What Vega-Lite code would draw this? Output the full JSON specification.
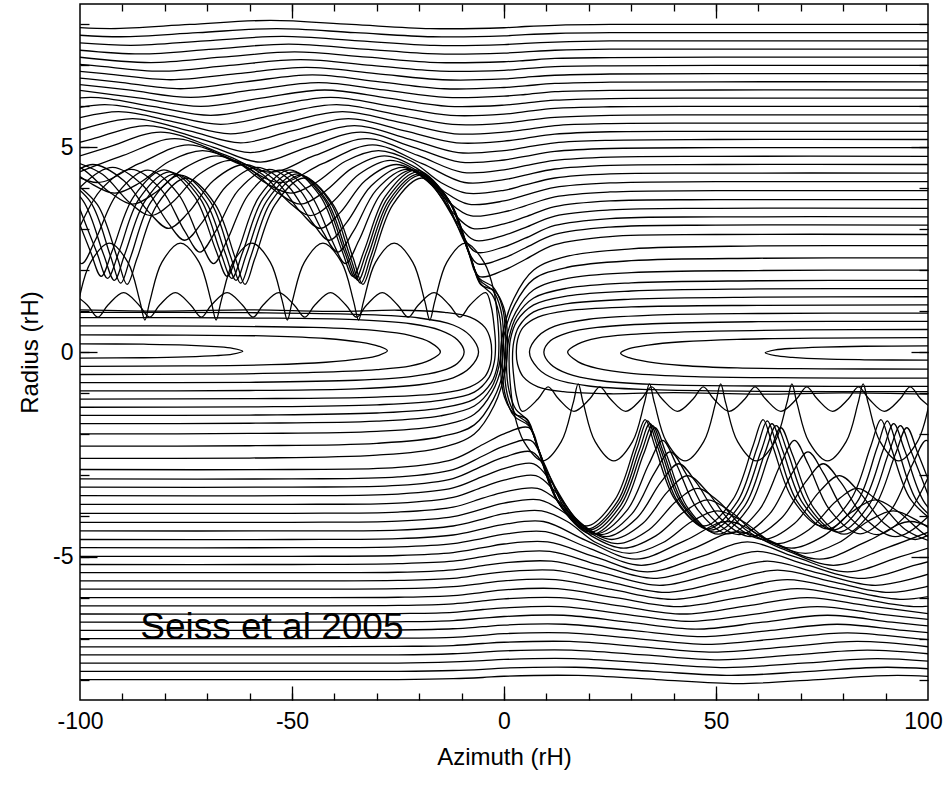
{
"$schema":"https://vega.github.io/schema/vega-lite/v6.json",
"width":848,"height":696,
"autosize":{"type":"none"},
"padding":{"left":80,"top":4,"right":15,"bottom":106},
"background":"white",
"config":{"view":{"stroke":"black","strokeWidth":1.5},"font":"Liberation Sans",
"axis":{"domain":false,"grid":false,"labelFont":"Liberation Sans","labelFontSize":23,"labelColor":"black","titleFont":"Liberation Sans","titleFontSize":24,"titleFontWeight":"normal","titleColor":"black","tickColor":"black","tickWidth":1.3}},
"resolve":{"axis":{"x":"independent","y":"independent"}},
"datasets":{
"label":[{"t":"Seiss et al 2005","x":-85.8,"y":-7.0}],
"lines":[
{"l":1,"x":100,"y":2.87},{"l":1,"x":50,"y":2.87},{"l":1,"x":25,"y":2.82},{"l":1,"x":12,"y":2.62},{"l":1,"x":5,"y":2.26},{"l":1,"x":0,"y":2},{"l":1,"x":-5.9,"y":1.85},{"l":1,"x":-8.6,"y":2.5},{"l":1,"x":-13.6,"y":3.8},{"l":1,"x":-20.8,"y":4.45},{"l":1,"x":-28,"y":3.8},{"l":1,"x":-32.9,"y":2.5},{"l":1,"x":-35.6,"y":1.85},{"l":1,"x":-38.3,"y":2.5},{"l":1,"x":-43.3,"y":3.8},{"l":1,"x":-50.5,"y":4.45},{"l":1,"x":-57.7,"y":3.8},{"l":1,"x":-62.6,"y":2.5},{"l":1,"x":-65.3,"y":1.85},{"l":1,"x":-68,"y":2.5},{"l":1,"x":-73,"y":3.8},{"l":1,"x":-80.2,"y":4.45},{"l":1,"x":-87.3,"y":3.8},{"l":1,"x":-92.3,"y":2.5},{"l":1,"x":-95,"y":1.85},{"l":1,"x":-97.7,"y":2.5},{"l":1,"x":-102.6,"y":3.8},
{"l":2,"x":100,"y":3.1},{"l":2,"x":50,"y":3.1},{"l":2,"x":25,"y":3.05},{"l":2,"x":12,"y":2.87},{"l":2,"x":5,"y":2.54},{"l":2,"x":0,"y":2.3},{"l":2,"x":-6.3,"y":2.16},{"l":2,"x":-9.5,"y":2.73},{"l":2,"x":-14.7,"y":3.87},{"l":2,"x":-21.8,"y":4.44},{"l":2,"x":-29,"y":3.87},{"l":2,"x":-34.2,"y":2.73},{"l":2,"x":-37.4,"y":2.16},{"l":2,"x":-40.6,"y":2.73},{"l":2,"x":-45.8,"y":3.87},{"l":2,"x":-52.9,"y":4.44},{"l":2,"x":-60.1,"y":3.87},{"l":2,"x":-65.3,"y":2.73},{"l":2,"x":-68.5,"y":2.16},{"l":2,"x":-71.7,"y":2.73},{"l":2,"x":-76.9,"y":3.87},{"l":2,"x":-84,"y":4.44},{"l":2,"x":-91.2,"y":3.87},{"l":2,"x":-96.4,"y":2.73},{"l":2,"x":-99.6,"y":2.16},{"l":2,"x":-102.8,"y":2.73},
{"l":3,"x":100,"y":3.3},{"l":3,"x":50,"y":3.3},{"l":3,"x":25,"y":3.26},{"l":3,"x":12,"y":3.09},{"l":3,"x":5,"y":2.78},{"l":3,"x":0,"y":2.57},{"l":3,"x":-6.6,"y":2.44},{"l":3,"x":-10.3,"y":2.95},{"l":3,"x":-15.7,"y":3.96},{"l":3,"x":-22.9,"y":4.46},{"l":3,"x":-30.1,"y":3.96},{"l":3,"x":-35.5,"y":2.95},{"l":3,"x":-39.2,"y":2.44},{"l":3,"x":-42.8,"y":2.95},{"l":3,"x":-48.2,"y":3.96},{"l":3,"x":-55.4,"y":4.46},{"l":3,"x":-62.6,"y":3.96},{"l":3,"x":-68,"y":2.95},{"l":3,"x":-71.7,"y":2.44},{"l":3,"x":-75.3,"y":2.95},{"l":3,"x":-80.8,"y":3.96},{"l":3,"x":-87.9,"y":4.46},{"l":3,"x":-95.1,"y":3.96},{"l":3,"x":-100.5,"y":2.95},
{"l":4,"x":100,"y":3.51},{"l":4,"x":50,"y":3.51},{"l":4,"x":25,"y":3.47},{"l":4,"x":12,"y":3.32},{"l":4,"x":5,"y":3.04},{"l":4,"x":0,"y":2.85},{"l":4,"x":-7,"y":2.73},{"l":4,"x":-11.2,"y":3.18},{"l":4,"x":-16.9,"y":4.06},{"l":4,"x":-24.1,"y":4.51},{"l":4,"x":-31.3,"y":4.06},{"l":4,"x":-37,"y":3.18},{"l":4,"x":-41.2,"y":2.73},{"l":4,"x":-45.3,"y":3.18},{"l":4,"x":-51,"y":4.06},{"l":4,"x":-58.2,"y":4.51},{"l":4,"x":-65.4,"y":4.06},{"l":4,"x":-71.1,"y":3.18},{"l":4,"x":-75.3,"y":2.73},{"l":4,"x":-79.4,"y":3.18},{"l":4,"x":-85.1,"y":4.06},{"l":4,"x":-92.3,"y":4.51},{"l":4,"x":-99.6,"y":4.06},{"l":4,"x":-105.2,"y":3.18},
{"l":5,"x":100,"y":3.72},{"l":5,"x":50,"y":3.72},{"l":5,"x":25,"y":3.69},{"l":5,"x":12,"y":3.55},{"l":5,"x":5,"y":3.3},{"l":5,"x":0,"y":3.13},{"l":5,"x":-7.5,"y":3.02},{"l":5,"x":-12.1,"y":3.41},{"l":5,"x":-18.1,"y":4.19},{"l":5,"x":-25.4,"y":4.58},{"l":5,"x":-32.7,"y":4.19},{"l":5,"x":-38.6,"y":3.41},{"l":5,"x":-43.3,"y":3.02},{"l":5,"x":-47.9,"y":3.41},{"l":5,"x":-53.9,"y":4.19},{"l":5,"x":-61.2,"y":4.58},{"l":5,"x":-68.5,"y":4.19},{"l":5,"x":-74.4,"y":3.41},{"l":5,"x":-79.1,"y":3.02},{"l":5,"x":-83.7,"y":3.41},{"l":5,"x":-89.7,"y":4.19},{"l":5,"x":-97,"y":4.58},{"l":5,"x":-104.3,"y":4.19},
{"l":6,"x":100,"y":3.94},{"l":6,"x":50,"y":3.94},{"l":6,"x":25,"y":3.91},{"l":6,"x":12,"y":3.79},{"l":6,"x":5,"y":3.57},{"l":6,"x":0,"y":3.42},{"l":6,"x":-7.9,"y":3.33},{"l":6,"x":-13,"y":3.66},{"l":6,"x":-19.3,"y":4.34},{"l":6,"x":-26.8,"y":4.68},{"l":6,"x":-34.2,"y":4.34},{"l":6,"x":-40.5,"y":3.66},{"l":6,"x":-45.6,"y":3.33},{"l":6,"x":-50.7,"y":3.66},{"l":6,"x":-57,"y":4.34},{"l":6,"x":-64.5,"y":4.68},{"l":6,"x":-71.9,"y":4.34},{"l":6,"x":-78.2,"y":3.66},{"l":6,"x":-83.3,"y":3.33},{"l":6,"x":-88.4,"y":3.66},{"l":6,"x":-94.7,"y":4.34},{"l":6,"x":-102.2,"y":4.68},
{"l":7,"x":100,"y":4.16},{"l":7,"x":50,"y":4.16},{"l":7,"x":25,"y":4.13},{"l":7,"x":12,"y":4.02},{"l":7,"x":5,"y":3.83},{"l":7,"x":0,"y":3.69},{"l":7,"x":-8.4,"y":3.61},{"l":7,"x":-14,"y":3.91},{"l":7,"x":-20.6,"y":4.49},{"l":7,"x":-28.2,"y":4.79},{"l":7,"x":-35.8,"y":4.49},{"l":7,"x":-42.4,"y":3.91},{"l":7,"x":-48,"y":3.61},{"l":7,"x":-53.6,"y":3.91},{"l":7,"x":-60.2,"y":4.49},{"l":7,"x":-67.8,"y":4.79},{"l":7,"x":-75.4,"y":4.49},{"l":7,"x":-82,"y":3.91},{"l":7,"x":-87.6,"y":3.61},{"l":7,"x":-93.1,"y":3.91},{"l":7,"x":-99.7,"y":4.49},{"l":7,"x":-107.4,"y":4.79},
{"l":8,"x":100,"y":4.37},{"l":8,"x":50,"y":4.37},{"l":8,"x":25,"y":4.35},{"l":8,"x":12,"y":4.25},{"l":8,"x":5,"y":4.08},{"l":8,"x":0,"y":3.95},{"l":8,"x":-8.9,"y":3.88},{"l":8,"x":-14.9,"y":4.14},{"l":8,"x":-21.8,"y":4.66},{"l":8,"x":-29.6,"y":4.92},{"l":8,"x":-37.4,"y":4.66},{"l":8,"x":-44.3,"y":4.14},{"l":8,"x":-50.3,"y":3.88},{"l":8,"x":-56.4,"y":4.14},{"l":8,"x":-63.3,"y":4.66},{"l":8,"x":-71.1,"y":4.92},{"l":8,"x":-78.9,"y":4.66},{"l":8,"x":-85.8,"y":4.14},{"l":8,"x":-91.8,"y":3.88},{"l":8,"x":-97.8,"y":4.14},{"l":8,"x":-104.7,"y":4.66},
{"l":9,"x":100,"y":4.58},{"l":9,"x":50,"y":4.58},{"l":9,"x":25,"y":4.56},{"l":9,"x":12,"y":4.47},{"l":9,"x":5,"y":4.32},{"l":9,"x":0,"y":4.21},{"l":9,"x":-9.3,"y":4.14},{"l":9,"x":-19.3,"y":4.6},{"l":9,"x":-31,"y":5.06},{"l":9,"x":-42.8,"y":4.6},{"l":9,"x":-52.7,"y":4.14},{"l":9,"x":-62.6,"y":4.6},{"l":9,"x":-74.4,"y":5.06},{"l":9,"x":-86.1,"y":4.6},{"l":9,"x":-96,"y":4.14},{"l":9,"x":-106,"y":4.6},
{"l":10,"x":100,"y":4.78},{"l":10,"x":50,"y":4.78},{"l":10,"x":25,"y":4.76},{"l":10,"x":12,"y":4.68},{"l":10,"x":5,"y":4.55},{"l":10,"x":0,"y":4.45},{"l":10,"x":-9.8,"y":4.39},{"l":10,"x":-20.3,"y":4.8},{"l":10,"x":-32.4,"y":5.21},{"l":10,"x":-44.6,"y":4.8},{"l":10,"x":-55.1,"y":4.39},{"l":10,"x":-65.5,"y":4.8},{"l":10,"x":-77.7,"y":5.21},{"l":10,"x":-89.8,"y":4.8},{"l":10,"x":-100.3,"y":4.39},
{"l":11,"x":100,"y":4.99},{"l":11,"x":50,"y":4.99},{"l":11,"x":25,"y":4.97},{"l":11,"x":12,"y":4.9},{"l":11,"x":5,"y":4.78},{"l":11,"x":0,"y":4.69},{"l":11,"x":-10.3,"y":4.64},{"l":11,"x":-21.3,"y":5},{"l":11,"x":-33.8,"y":5.37},{"l":11,"x":-46.4,"y":5},{"l":11,"x":-57.4,"y":4.64},{"l":11,"x":-68.5,"y":5},{"l":11,"x":-81,"y":5.37},{"l":11,"x":-93.5,"y":5},{"l":11,"x":-104.5,"y":4.64},
{"l":12,"x":100,"y":5.19},{"l":12,"x":50,"y":5.19},{"l":12,"x":25,"y":5.17},{"l":12,"x":12,"y":5.11},{"l":12,"x":5,"y":5},{"l":12,"x":0,"y":4.92},{"l":12,"x":-10.8,"y":4.87},{"l":12,"x":-22.3,"y":5.2},{"l":12,"x":-35.3,"y":5.53},{"l":12,"x":-48.2,"y":5.2},{"l":12,"x":-59.8,"y":4.87},{"l":12,"x":-71.4,"y":5.2},{"l":12,"x":-84.3,"y":5.53},{"l":12,"x":-97.2,"y":5.2},{"l":12,"x":-108.8,"y":4.87},
{"l":13,"x":100,"y":5.39},{"l":13,"x":50,"y":5.39},{"l":13,"x":25,"y":5.38},{"l":13,"x":12,"y":5.32},{"l":13,"x":5,"y":5.22},{"l":13,"x":0,"y":5.15},{"l":13,"x":-11.2,"y":5.11},{"l":13,"x":-23.4,"y":5.4},{"l":13,"x":-36.7,"y":5.7},{"l":13,"x":-50,"y":5.4},{"l":13,"x":-62.1,"y":5.11},{"l":13,"x":-74.2,"y":5.4},{"l":13,"x":-87.6,"y":5.7},{"l":13,"x":-100.9,"y":5.4},
{"l":14,"x":100,"y":5.59},{"l":14,"x":50,"y":5.59},{"l":14,"x":25,"y":5.58},{"l":14,"x":12,"y":5.53},{"l":14,"x":5,"y":5.43},{"l":14,"x":0,"y":5.37},{"l":14,"x":-11.7,"y":5.33},{"l":14,"x":-24.3,"y":5.6},{"l":14,"x":-38.1,"y":5.87},{"l":14,"x":-51.8,"y":5.6},{"l":14,"x":-64.5,"y":5.33},{"l":14,"x":-77.1,"y":5.6},{"l":14,"x":-90.9,"y":5.87},{"l":14,"x":-104.6,"y":5.6},
{"l":15,"x":100,"y":5.79},{"l":15,"x":50,"y":5.79},{"l":15,"x":25,"y":5.78},{"l":15,"x":12,"y":5.73},{"l":15,"x":5,"y":5.65},{"l":15,"x":0,"y":5.59},{"l":15,"x":-12.2,"y":5.56},{"l":15,"x":-25.4,"y":5.8},{"l":15,"x":-39.5,"y":6.04},{"l":15,"x":-53.7,"y":5.8},{"l":15,"x":-66.8,"y":5.56},{"l":15,"x":-80,"y":5.8},{"l":15,"x":-94.2,"y":6.04},{"l":15,"x":-108.3,"y":5.8},
{"l":16,"x":100,"y":6},{"l":16,"x":50,"y":6},{"l":16,"x":25,"y":5.99},{"l":16,"x":12,"y":5.95},{"l":16,"x":5,"y":5.87},{"l":16,"x":0,"y":5.81},{"l":16,"x":-12.6,"y":5.78},{"l":16,"x":-26.3,"y":6},{"l":16,"x":-40.9,"y":6.22},{"l":16,"x":-55.5,"y":6},{"l":16,"x":-69.2,"y":5.78},{"l":16,"x":-82.9,"y":6},{"l":16,"x":-97.5,"y":6.22},{"l":16,"x":-112,"y":6},
{"l":17,"x":100,"y":6.2},{"l":17,"x":50,"y":6.2},{"l":17,"x":25,"y":6.19},{"l":17,"x":12,"y":6.15},{"l":17,"x":5,"y":6.08},{"l":17,"x":0,"y":6.03},{"l":17,"x":-13.1,"y":6},{"l":17,"x":-27.3,"y":6.2},{"l":17,"x":-42.3,"y":6.4},{"l":17,"x":-57.3,"y":6.2},{"l":17,"x":-71.5,"y":6},{"l":17,"x":-85.8,"y":6.2},{"l":17,"x":-100.8,"y":6.4},
{"l":18,"x":100,"y":6.4},{"l":18,"x":50,"y":6.4},{"l":18,"x":25,"y":6.39},{"l":18,"x":12,"y":6.36},{"l":18,"x":5,"y":6.29},{"l":18,"x":0,"y":6.25},{"l":18,"x":-13.6,"y":6.22},{"l":18,"x":-28.3,"y":6.4},{"l":18,"x":-43.7,"y":6.58},{"l":18,"x":-59.2,"y":6.4},{"l":18,"x":-73.9,"y":6.22},{"l":18,"x":-88.6,"y":6.4},{"l":18,"x":-104.1,"y":6.58},
{"l":19,"x":100,"y":6.6},{"l":19,"x":50,"y":6.6},{"l":19,"x":25,"y":6.59},{"l":19,"x":12,"y":6.56},{"l":19,"x":5,"y":6.5},{"l":19,"x":0,"y":6.46},{"l":19,"x":-14.1,"y":6.43},{"l":19,"x":-29.3,"y":6.6},{"l":19,"x":-45.2,"y":6.77},{"l":19,"x":-61,"y":6.6},{"l":19,"x":-76.3,"y":6.43},{"l":19,"x":-91.5,"y":6.6},{"l":19,"x":-107.4,"y":6.77},
{"l":20,"x":100,"y":6.8},{"l":20,"x":50,"y":6.8},{"l":20,"x":25,"y":6.79},{"l":20,"x":12,"y":6.76},{"l":20,"x":5,"y":6.71},{"l":20,"x":0,"y":6.67},{"l":20,"x":-14.5,"y":6.65},{"l":20,"x":-30.2,"y":6.8},{"l":20,"x":-46.6,"y":6.95},{"l":20,"x":-62.9,"y":6.8},{"l":20,"x":-78.6,"y":6.65},{"l":20,"x":-94.3,"y":6.8},{"l":20,"x":-110.7,"y":6.95},
{"l":21,"x":100,"y":7},{"l":21,"x":50,"y":7},{"l":21,"x":25,"y":6.99},{"l":21,"x":12,"y":6.97},{"l":21,"x":5,"y":6.92},{"l":21,"x":0,"y":6.88},{"l":21,"x":-15,"y":6.86},{"l":21,"x":-31.2,"y":7},{"l":21,"x":-48,"y":7.14},{"l":21,"x":-64.8,"y":7},{"l":21,"x":-81,"y":6.86},{"l":21,"x":-97.2,"y":7},{"l":21,"x":-114,"y":7.14},
{"l":22,"x":100,"y":7.2},{"l":22,"x":50,"y":7.2},{"l":22,"x":25,"y":7.19},{"l":22,"x":12,"y":7.17},{"l":22,"x":5,"y":7.12},{"l":22,"x":0,"y":7.09},{"l":22,"x":-15.5,"y":7.07},{"l":22,"x":-32.2,"y":7.2},{"l":22,"x":-49.4,"y":7.33},{"l":22,"x":-66.6,"y":7.2},{"l":22,"x":-83.3,"y":7.07},{"l":22,"x":-100,"y":7.2},
{"l":23,"x":100,"y":7.4},{"l":23,"x":50,"y":7.4},{"l":23,"x":25,"y":7.4},{"l":23,"x":12,"y":7.37},{"l":23,"x":5,"y":7.33},{"l":23,"x":0,"y":7.3},{"l":23,"x":-15.9,"y":7.28},{"l":23,"x":-33.1,"y":7.4},{"l":23,"x":-50.8,"y":7.52},{"l":23,"x":-68.5,"y":7.4},{"l":23,"x":-85.7,"y":7.28},{"l":23,"x":-102.9,"y":7.4},
{"l":24,"x":100,"y":7.6},{"l":24,"x":50,"y":7.6},{"l":24,"x":25,"y":7.6},{"l":24,"x":12,"y":7.57},{"l":24,"x":5,"y":7.54},{"l":24,"x":0,"y":7.51},{"l":24,"x":-16.4,"y":7.49},{"l":24,"x":-34.1,"y":7.6},{"l":24,"x":-52.2,"y":7.71},{"l":24,"x":-70.4,"y":7.6},{"l":24,"x":-88,"y":7.49},{"l":24,"x":-105.7,"y":7.6},
{"l":25,"x":100,"y":7.8},{"l":25,"x":50,"y":7.8},{"l":25,"x":25,"y":7.8},{"l":25,"x":12,"y":7.78},{"l":25,"x":5,"y":7.75},{"l":25,"x":0,"y":7.72},{"l":25,"x":-16.9,"y":7.7},{"l":25,"x":-35.1,"y":7.8},{"l":25,"x":-53.6,"y":7.9},{"l":25,"x":-72.2,"y":7.8},{"l":25,"x":-90.4,"y":7.7},{"l":25,"x":-108.6,"y":7.8},
{"l":26,"x":100,"y":8},{"l":26,"x":50,"y":8},{"l":26,"x":25,"y":8},{"l":26,"x":12,"y":7.98},{"l":26,"x":5,"y":7.95},{"l":26,"x":0,"y":7.92},{"l":26,"x":-17.4,"y":7.9},{"l":26,"x":-36,"y":8},{"l":26,"x":-55.1,"y":8.1},{"l":26,"x":-74.1,"y":8},{"l":26,"x":-92.8,"y":7.9},{"l":26,"x":-111.4,"y":8},
{"l":27,"x":100,"y":0.15},{"l":27,"x":85,"y":0.14},{"l":27,"x":75,"y":0.12},{"l":27,"x":68,"y":0.09},{"l":27,"x":64,"y":0.05},{"l":27,"x":61.6,"y":-0.02},{"l":27,"x":64,"y":-0.09},{"l":27,"x":68,"y":-0.13},{"l":27,"x":75,"y":-0.17},{"l":27,"x":85,"y":-0.19},{"l":27,"x":100,"y":-0.2},
{"l":28,"x":100,"y":0.35},{"l":28,"x":75,"y":0.34},{"l":28,"x":55,"y":0.31},{"l":28,"x":42,"y":0.25},{"l":28,"x":34,"y":0.17},{"l":28,"x":29.5,"y":0.08},{"l":28,"x":27.5,"y":-0.03},{"l":28,"x":29.5,"y":-0.14},{"l":28,"x":34,"y":-0.24},{"l":28,"x":42,"y":-0.33},{"l":28,"x":55,"y":-0.39},{"l":28,"x":75,"y":-0.41},{"l":28,"x":100,"y":-0.42},
{"l":29,"x":100,"y":0.55},{"l":29,"x":70,"y":0.54},{"l":29,"x":45,"y":0.5},{"l":29,"x":30,"y":0.43},{"l":29,"x":22,"y":0.34},{"l":29,"x":17.5,"y":0.2},{"l":29,"x":15,"y":0},{"l":29,"x":17.5,"y":-0.24},{"l":29,"x":22,"y":-0.4},{"l":29,"x":30,"y":-0.52},{"l":29,"x":45,"y":-0.6},{"l":29,"x":70,"y":-0.63},{"l":29,"x":100,"y":-0.64},
{"l":30,"x":100,"y":0.75},{"l":30,"x":60,"y":0.74},{"l":30,"x":35,"y":0.69},{"l":30,"x":22,"y":0.6},{"l":30,"x":15,"y":0.47},{"l":30,"x":11,"y":0.28},{"l":30,"x":9.4,"y":0},{"l":30,"x":11,"y":-0.3},{"l":30,"x":15,"y":-0.53},{"l":30,"x":22,"y":-0.69},{"l":30,"x":35,"y":-0.79},{"l":30,"x":60,"y":-0.83},{"l":30,"x":100,"y":-0.84},
{"l":31,"x":100,"y":0.95},{"l":31,"x":60,"y":0.94},{"l":31,"x":35,"y":0.9},{"l":31,"x":20,"y":0.8},{"l":31,"x":12,"y":0.63},{"l":31,"x":8,"y":0.38},{"l":31,"x":6,"y":0},{"l":31,"x":8,"y":-0.4},{"l":31,"x":12,"y":-0.66},{"l":31,"x":20,"y":-0.83},{"l":31,"x":35,"y":-0.92},{"l":31,"x":60,"y":-0.96},{"l":31,"x":100,"y":-0.97},
{"l":32,"x":100,"y":1.15},{"l":32,"x":60,"y":1.14},{"l":32,"x":30,"y":1.1},{"l":32,"x":15,"y":1.01},{"l":32,"x":8,"y":0.85},{"l":32,"x":4.5,"y":0.6},{"l":32,"x":3.2,"y":0.3},{"l":32,"x":2.9,"y":0},{"l":32,"x":3.2,"y":-0.3},{"l":32,"x":4.5,"y":-0.6},{"l":32,"x":8,"y":-0.85},{"l":32,"x":14,"y":-0.97},{"l":32,"x":25,"y":-1.02},{"l":32,"x":40,"y":-0.99},{"l":32,"x":60,"y":-1.03},{"l":32,"x":80,"y":-1},{"l":32,"x":100,"y":-1.03},
{"l":33,"x":100,"y":1.35},{"l":33,"x":60,"y":1.34},{"l":33,"x":30,"y":1.29},{"l":33,"x":15,"y":1.18},{"l":33,"x":7,"y":0.98},{"l":33,"x":3.5,"y":0.62},{"l":33,"x":2.3,"y":0.25},{"l":33,"x":2,"y":-0.15},{"l":33,"x":2.3,"y":-0.6},{"l":33,"x":3,"y":-1.1},{"l":33,"x":4.3,"y":-1.45},{"l":33,"x":8,"y":-1.15},{"l":33,"x":10.4,"y":-0.85},{"l":33,"x":12.9,"y":-1.15},{"l":33,"x":16.5,"y":-1.45},{"l":33,"x":20.2,"y":-1.15},{"l":33,"x":22.6,"y":-0.85},{"l":33,"x":25.1,"y":-1.15},{"l":33,"x":28.7,"y":-1.45},{"l":33,"x":32.4,"y":-1.15},{"l":33,"x":34.8,"y":-0.85},{"l":33,"x":37.3,"y":-1.15},{"l":33,"x":40.9,"y":-1.45},{"l":33,"x":44.6,"y":-1.15},{"l":33,"x":47,"y":-0.85},{"l":33,"x":49.5,"y":-1.15},{"l":33,"x":53.1,"y":-1.45},{"l":33,"x":56.8,"y":-1.15},{"l":33,"x":59.2,"y":-0.85},{"l":33,"x":61.7,"y":-1.15},{"l":33,"x":65.3,"y":-1.45},{"l":33,"x":69,"y":-1.15},{"l":33,"x":71.4,"y":-0.85},{"l":33,"x":73.9,"y":-1.15},{"l":33,"x":77.5,"y":-1.45},{"l":33,"x":81.2,"y":-1.15},{"l":33,"x":83.6,"y":-0.85},{"l":33,"x":86.1,"y":-1.15},{"l":33,"x":89.7,"y":-1.45},{"l":33,"x":93.4,"y":-1.15},{"l":33,"x":95.8,"y":-0.85},{"l":33,"x":98.3,"y":-1.15},{"l":33,"x":101.9,"y":-1.45},
{"l":34,"x":100,"y":1.55},{"l":34,"x":60,"y":1.54},{"l":34,"x":30,"y":1.49},{"l":34,"x":15,"y":1.37},{"l":34,"x":7,"y":1.15},{"l":34,"x":3,"y":0.75},{"l":34,"x":1.5,"y":0.3},{"l":34,"x":1.2,"y":-0.2},{"l":34,"x":1.5,"y":-0.8},{"l":34,"x":2.4,"y":-1.5},{"l":34,"x":4.7,"y":-2.19},{"l":34,"x":9.1,"y":-2.66},{"l":34,"x":13.5,"y":-2.19},{"l":34,"x":16.3,"y":-1.25},{"l":34,"x":17.5,"y":-0.78},{"l":34,"x":18.7,"y":-1.25},{"l":34,"x":21.5,"y":-2.19},{"l":34,"x":25.9,"y":-2.66},{"l":34,"x":30.3,"y":-2.19},{"l":34,"x":33.1,"y":-1.25},{"l":34,"x":34.3,"y":-0.78},{"l":34,"x":35.5,"y":-1.25},{"l":34,"x":38.3,"y":-2.19},{"l":34,"x":42.7,"y":-2.66},{"l":34,"x":47.1,"y":-2.19},{"l":34,"x":49.9,"y":-1.25},{"l":34,"x":51.1,"y":-0.78},{"l":34,"x":52.3,"y":-1.25},{"l":34,"x":55.1,"y":-2.19},{"l":34,"x":59.5,"y":-2.66},{"l":34,"x":63.9,"y":-2.19},{"l":34,"x":66.7,"y":-1.25},{"l":34,"x":67.9,"y":-0.78},{"l":34,"x":69.1,"y":-1.25},{"l":34,"x":71.9,"y":-2.19},{"l":34,"x":76.3,"y":-2.66},{"l":34,"x":80.7,"y":-2.19},{"l":34,"x":83.5,"y":-1.25},{"l":34,"x":84.7,"y":-0.78},{"l":34,"x":85.9,"y":-1.25},{"l":34,"x":88.7,"y":-2.19},{"l":34,"x":93.1,"y":-2.66},{"l":34,"x":97.5,"y":-2.19},{"l":34,"x":100.3,"y":-1.25},
{"l":35,"x":100,"y":1.75},{"l":35,"x":60,"y":1.74},{"l":35,"x":30,"y":1.69},{"l":35,"x":15,"y":1.56},{"l":35,"x":7,"y":1.32},{"l":35,"x":3,"y":0.88},{"l":35,"x":1.2,"y":0.35},{"l":35,"x":0.6,"y":-0.3},{"l":35,"x":1.2,"y":-0.95},{"l":35,"x":2.8,"y":-1.4},{"l":35,"x":5.6,"y":-1.68},{"l":35,"x":8,"y":-2.34},{"l":35,"x":12.7,"y":-3.66},{"l":35,"x":19.7,"y":-4.32},{"l":35,"x":26.7,"y":-3.66},{"l":35,"x":31.4,"y":-2.34},{"l":35,"x":33.8,"y":-1.68},{"l":35,"x":36.3,"y":-2.34},{"l":35,"x":41,"y":-3.66},{"l":35,"x":48,"y":-4.32},{"l":35,"x":55,"y":-3.66},{"l":35,"x":59.7,"y":-2.34},{"l":35,"x":62.1,"y":-1.68},{"l":35,"x":64.5,"y":-2.34},{"l":35,"x":69.2,"y":-3.66},{"l":35,"x":76.3,"y":-4.32},{"l":35,"x":83.3,"y":-3.66},{"l":35,"x":88,"y":-2.34},{"l":35,"x":90.4,"y":-1.68},{"l":35,"x":92.8,"y":-2.34},{"l":35,"x":97.5,"y":-3.66},{"l":35,"x":104.5,"y":-4.32},
{"l":36,"x":100,"y":2},{"l":36,"x":60,"y":1.99},{"l":36,"x":30,"y":1.94},{"l":36,"x":15,"y":1.8},{"l":36,"x":7,"y":1.52},{"l":36,"x":2.8,"y":0.98},{"l":36,"x":0.6,"y":0.35},{"l":36,"x":0.1,"y":-0.35},{"l":36,"x":0.8,"y":-1.05},{"l":36,"x":2.6,"y":-1.5},{"l":36,"x":5.7,"y":-1.75},{"l":36,"x":8.2,"y":-2.4},{"l":36,"x":13,"y":-3.7},{"l":36,"x":20.1,"y":-4.35},{"l":36,"x":27.1,"y":-3.7},{"l":36,"x":31.9,"y":-2.4},{"l":36,"x":34.4,"y":-1.75},{"l":36,"x":37,"y":-2.4},{"l":36,"x":41.8,"y":-3.7},{"l":36,"x":48.8,"y":-4.35},{"l":36,"x":55.9,"y":-3.7},{"l":36,"x":60.7,"y":-2.4},{"l":36,"x":63.2,"y":-1.75},{"l":36,"x":65.7,"y":-2.4},{"l":36,"x":70.5,"y":-3.7},{"l":36,"x":77.6,"y":-4.35},{"l":36,"x":84.6,"y":-3.7},{"l":36,"x":89.4,"y":-2.4},{"l":36,"x":91.9,"y":-1.75},{"l":36,"x":94.5,"y":-2.4},{"l":36,"x":99.3,"y":-3.7},{"l":36,"x":106.3,"y":-4.35},
{"l":37,"x":100,"y":2.3},{"l":37,"x":60,"y":2.29},{"l":37,"x":30,"y":2.23},{"l":37,"x":15,"y":2.07},{"l":37,"x":7,"y":1.78},{"l":37,"x":2.5,"y":1.15},{"l":37,"x":0,"y":0.4},{"l":37,"x":-0.4,"y":-0.4},{"l":37,"x":0.4,"y":-1.1},{"l":37,"x":2.5,"y":-1.58},{"l":37,"x":5.8,"y":-1.8},{"l":37,"x":8.4,"y":-2.45},{"l":37,"x":13.3,"y":-3.75},{"l":37,"x":20.4,"y":-4.4},{"l":37,"x":27.5,"y":-3.75},{"l":37,"x":32.4,"y":-2.45},{"l":37,"x":35,"y":-1.8},{"l":37,"x":37.6,"y":-2.45},{"l":37,"x":42.5,"y":-3.75},{"l":37,"x":49.6,"y":-4.4},{"l":37,"x":56.8,"y":-3.75},{"l":37,"x":61.6,"y":-2.45},{"l":37,"x":64.2,"y":-1.8},{"l":37,"x":66.9,"y":-2.45},{"l":37,"x":71.7,"y":-3.75},{"l":37,"x":78.9,"y":-4.4},{"l":37,"x":86,"y":-3.75},{"l":37,"x":90.8,"y":-2.45},{"l":37,"x":93.5,"y":-1.8},{"l":37,"x":96.1,"y":-2.45},{"l":37,"x":101,"y":-3.75},
{"l":38,"x":100,"y":2.6},{"l":38,"x":60,"y":2.59},{"l":38,"x":30,"y":2.52},{"l":38,"x":15,"y":2.34},{"l":38,"x":7,"y":2},{"l":38,"x":2.3,"y":1.3},{"l":38,"x":-0.3,"y":0.45},{"l":38,"x":-0.8,"y":-0.4},{"l":38,"x":0.1,"y":-1.1},{"l":38,"x":2.3,"y":-1.5},{"l":38,"x":5.5,"y":-1.65},{"l":38,"x":7.8,"y":-2.3},{"l":38,"x":12.5,"y":-3.6},{"l":38,"x":19.4,"y":-4.25},{"l":38,"x":26.2,"y":-3.6},{"l":38,"x":30.9,"y":-2.3},{"l":38,"x":33.3,"y":-1.65},{"l":38,"x":35.6,"y":-2.3},{"l":38,"x":40.3,"y":-3.6},{"l":38,"x":47.2,"y":-4.25},{"l":38,"x":54,"y":-3.6},{"l":38,"x":58.7,"y":-2.3},{"l":38,"x":61.1,"y":-1.65},{"l":38,"x":63.4,"y":-2.3},{"l":38,"x":68.1,"y":-3.6},{"l":38,"x":74.9,"y":-4.25},{"l":38,"x":81.8,"y":-3.6},{"l":38,"x":86.5,"y":-2.3},{"l":38,"x":88.9,"y":-1.65},{"l":38,"x":91.2,"y":-2.3},{"l":38,"x":95.9,"y":-3.6},{"l":38,"x":102.8,"y":-4.25},
{"l":101,"x":-100,"y":-2.87},{"l":101,"x":-50,"y":-2.87},{"l":101,"x":-25,"y":-2.82},{"l":101,"x":-12,"y":-2.62},{"l":101,"x":-5,"y":-2.26},{"l":101,"x":0,"y":-2},{"l":101,"x":5.9,"y":-1.85},{"l":101,"x":8.6,"y":-2.5},{"l":101,"x":13.6,"y":-3.8},{"l":101,"x":20.8,"y":-4.45},{"l":101,"x":28,"y":-3.8},{"l":101,"x":32.9,"y":-2.5},{"l":101,"x":35.6,"y":-1.85},{"l":101,"x":38.3,"y":-2.5},{"l":101,"x":43.3,"y":-3.8},{"l":101,"x":50.5,"y":-4.45},{"l":101,"x":57.7,"y":-3.8},{"l":101,"x":62.6,"y":-2.5},{"l":101,"x":65.3,"y":-1.85},{"l":101,"x":68,"y":-2.5},{"l":101,"x":73,"y":-3.8},{"l":101,"x":80.2,"y":-4.45},{"l":101,"x":87.3,"y":-3.8},{"l":101,"x":92.3,"y":-2.5},{"l":101,"x":95,"y":-1.85},{"l":101,"x":97.7,"y":-2.5},{"l":101,"x":102.6,"y":-3.8},
{"l":102,"x":-100,"y":-3.1},{"l":102,"x":-50,"y":-3.1},{"l":102,"x":-25,"y":-3.05},{"l":102,"x":-12,"y":-2.87},{"l":102,"x":-5,"y":-2.54},{"l":102,"x":0,"y":-2.3},{"l":102,"x":6.3,"y":-2.16},{"l":102,"x":9.5,"y":-2.73},{"l":102,"x":14.7,"y":-3.87},{"l":102,"x":21.8,"y":-4.44},{"l":102,"x":29,"y":-3.87},{"l":102,"x":34.2,"y":-2.73},{"l":102,"x":37.4,"y":-2.16},{"l":102,"x":40.6,"y":-2.73},{"l":102,"x":45.8,"y":-3.87},{"l":102,"x":52.9,"y":-4.44},{"l":102,"x":60.1,"y":-3.87},{"l":102,"x":65.3,"y":-2.73},{"l":102,"x":68.5,"y":-2.16},{"l":102,"x":71.7,"y":-2.73},{"l":102,"x":76.9,"y":-3.87},{"l":102,"x":84,"y":-4.44},{"l":102,"x":91.2,"y":-3.87},{"l":102,"x":96.4,"y":-2.73},{"l":102,"x":99.6,"y":-2.16},{"l":102,"x":102.8,"y":-2.73},
{"l":103,"x":-100,"y":-3.3},{"l":103,"x":-50,"y":-3.3},{"l":103,"x":-25,"y":-3.26},{"l":103,"x":-12,"y":-3.09},{"l":103,"x":-5,"y":-2.78},{"l":103,"x":0,"y":-2.57},{"l":103,"x":6.6,"y":-2.44},{"l":103,"x":10.3,"y":-2.95},{"l":103,"x":15.7,"y":-3.96},{"l":103,"x":22.9,"y":-4.46},{"l":103,"x":30.1,"y":-3.96},{"l":103,"x":35.5,"y":-2.95},{"l":103,"x":39.2,"y":-2.44},{"l":103,"x":42.8,"y":-2.95},{"l":103,"x":48.2,"y":-3.96},{"l":103,"x":55.4,"y":-4.46},{"l":103,"x":62.6,"y":-3.96},{"l":103,"x":68,"y":-2.95},{"l":103,"x":71.7,"y":-2.44},{"l":103,"x":75.3,"y":-2.95},{"l":103,"x":80.8,"y":-3.96},{"l":103,"x":87.9,"y":-4.46},{"l":103,"x":95.1,"y":-3.96},{"l":103,"x":100.5,"y":-2.95},
{"l":104,"x":-100,"y":-3.51},{"l":104,"x":-50,"y":-3.51},{"l":104,"x":-25,"y":-3.47},{"l":104,"x":-12,"y":-3.32},{"l":104,"x":-5,"y":-3.04},{"l":104,"x":0,"y":-2.85},{"l":104,"x":7,"y":-2.73},{"l":104,"x":11.2,"y":-3.18},{"l":104,"x":16.9,"y":-4.06},{"l":104,"x":24.1,"y":-4.51},{"l":104,"x":31.3,"y":-4.06},{"l":104,"x":37,"y":-3.18},{"l":104,"x":41.2,"y":-2.73},{"l":104,"x":45.3,"y":-3.18},{"l":104,"x":51,"y":-4.06},{"l":104,"x":58.2,"y":-4.51},{"l":104,"x":65.4,"y":-4.06},{"l":104,"x":71.1,"y":-3.18},{"l":104,"x":75.3,"y":-2.73},{"l":104,"x":79.4,"y":-3.18},{"l":104,"x":85.1,"y":-4.06},{"l":104,"x":92.3,"y":-4.51},{"l":104,"x":99.6,"y":-4.06},{"l":104,"x":105.2,"y":-3.18},
{"l":105,"x":-100,"y":-3.72},{"l":105,"x":-50,"y":-3.72},{"l":105,"x":-25,"y":-3.69},{"l":105,"x":-12,"y":-3.55},{"l":105,"x":-5,"y":-3.3},{"l":105,"x":0,"y":-3.13},{"l":105,"x":7.5,"y":-3.02},{"l":105,"x":12.1,"y":-3.41},{"l":105,"x":18.1,"y":-4.19},{"l":105,"x":25.4,"y":-4.58},{"l":105,"x":32.7,"y":-4.19},{"l":105,"x":38.6,"y":-3.41},{"l":105,"x":43.3,"y":-3.02},{"l":105,"x":47.9,"y":-3.41},{"l":105,"x":53.9,"y":-4.19},{"l":105,"x":61.2,"y":-4.58},{"l":105,"x":68.5,"y":-4.19},{"l":105,"x":74.4,"y":-3.41},{"l":105,"x":79.1,"y":-3.02},{"l":105,"x":83.7,"y":-3.41},{"l":105,"x":89.7,"y":-4.19},{"l":105,"x":97,"y":-4.58},{"l":105,"x":104.3,"y":-4.19},
{"l":106,"x":-100,"y":-3.94},{"l":106,"x":-50,"y":-3.94},{"l":106,"x":-25,"y":-3.91},{"l":106,"x":-12,"y":-3.79},{"l":106,"x":-5,"y":-3.57},{"l":106,"x":0,"y":-3.42},{"l":106,"x":7.9,"y":-3.33},{"l":106,"x":13,"y":-3.66},{"l":106,"x":19.3,"y":-4.34},{"l":106,"x":26.8,"y":-4.68},{"l":106,"x":34.2,"y":-4.34},{"l":106,"x":40.5,"y":-3.66},{"l":106,"x":45.6,"y":-3.33},{"l":106,"x":50.7,"y":-3.66},{"l":106,"x":57,"y":-4.34},{"l":106,"x":64.5,"y":-4.68},{"l":106,"x":71.9,"y":-4.34},{"l":106,"x":78.2,"y":-3.66},{"l":106,"x":83.3,"y":-3.33},{"l":106,"x":88.4,"y":-3.66},{"l":106,"x":94.7,"y":-4.34},{"l":106,"x":102.2,"y":-4.68},
{"l":107,"x":-100,"y":-4.16},{"l":107,"x":-50,"y":-4.16},{"l":107,"x":-25,"y":-4.13},{"l":107,"x":-12,"y":-4.02},{"l":107,"x":-5,"y":-3.83},{"l":107,"x":0,"y":-3.69},{"l":107,"x":8.4,"y":-3.61},{"l":107,"x":14,"y":-3.91},{"l":107,"x":20.6,"y":-4.49},{"l":107,"x":28.2,"y":-4.79},{"l":107,"x":35.8,"y":-4.49},{"l":107,"x":42.4,"y":-3.91},{"l":107,"x":48,"y":-3.61},{"l":107,"x":53.6,"y":-3.91},{"l":107,"x":60.2,"y":-4.49},{"l":107,"x":67.8,"y":-4.79},{"l":107,"x":75.4,"y":-4.49},{"l":107,"x":82,"y":-3.91},{"l":107,"x":87.6,"y":-3.61},{"l":107,"x":93.1,"y":-3.91},{"l":107,"x":99.7,"y":-4.49},{"l":107,"x":107.4,"y":-4.79},
{"l":108,"x":-100,"y":-4.37},{"l":108,"x":-50,"y":-4.37},{"l":108,"x":-25,"y":-4.35},{"l":108,"x":-12,"y":-4.25},{"l":108,"x":-5,"y":-4.08},{"l":108,"x":0,"y":-3.95},{"l":108,"x":8.9,"y":-3.88},{"l":108,"x":14.9,"y":-4.14},{"l":108,"x":21.8,"y":-4.66},{"l":108,"x":29.6,"y":-4.92},{"l":108,"x":37.4,"y":-4.66},{"l":108,"x":44.3,"y":-4.14},{"l":108,"x":50.3,"y":-3.88},{"l":108,"x":56.4,"y":-4.14},{"l":108,"x":63.3,"y":-4.66},{"l":108,"x":71.1,"y":-4.92},{"l":108,"x":78.9,"y":-4.66},{"l":108,"x":85.8,"y":-4.14},{"l":108,"x":91.8,"y":-3.88},{"l":108,"x":97.8,"y":-4.14},{"l":108,"x":104.7,"y":-4.66},
{"l":109,"x":-100,"y":-4.58},{"l":109,"x":-50,"y":-4.58},{"l":109,"x":-25,"y":-4.56},{"l":109,"x":-12,"y":-4.47},{"l":109,"x":-5,"y":-4.32},{"l":109,"x":0,"y":-4.21},{"l":109,"x":9.3,"y":-4.14},{"l":109,"x":19.3,"y":-4.6},{"l":109,"x":31,"y":-5.06},{"l":109,"x":42.8,"y":-4.6},{"l":109,"x":52.7,"y":-4.14},{"l":109,"x":62.6,"y":-4.6},{"l":109,"x":74.4,"y":-5.06},{"l":109,"x":86.1,"y":-4.6},{"l":109,"x":96,"y":-4.14},{"l":109,"x":106,"y":-4.6},
{"l":110,"x":-100,"y":-4.78},{"l":110,"x":-50,"y":-4.78},{"l":110,"x":-25,"y":-4.76},{"l":110,"x":-12,"y":-4.68},{"l":110,"x":-5,"y":-4.55},{"l":110,"x":0,"y":-4.45},{"l":110,"x":9.8,"y":-4.39},{"l":110,"x":20.3,"y":-4.8},{"l":110,"x":32.4,"y":-5.21},{"l":110,"x":44.6,"y":-4.8},{"l":110,"x":55.1,"y":-4.39},{"l":110,"x":65.5,"y":-4.8},{"l":110,"x":77.7,"y":-5.21},{"l":110,"x":89.8,"y":-4.8},{"l":110,"x":100.3,"y":-4.39},
{"l":111,"x":-100,"y":-4.99},{"l":111,"x":-50,"y":-4.99},{"l":111,"x":-25,"y":-4.97},{"l":111,"x":-12,"y":-4.9},{"l":111,"x":-5,"y":-4.78},{"l":111,"x":0,"y":-4.69},{"l":111,"x":10.3,"y":-4.64},{"l":111,"x":21.3,"y":-5},{"l":111,"x":33.8,"y":-5.37},{"l":111,"x":46.4,"y":-5},{"l":111,"x":57.4,"y":-4.64},{"l":111,"x":68.5,"y":-5},{"l":111,"x":81,"y":-5.37},{"l":111,"x":93.5,"y":-5},{"l":111,"x":104.5,"y":-4.64},
{"l":112,"x":-100,"y":-5.19},{"l":112,"x":-50,"y":-5.19},{"l":112,"x":-25,"y":-5.17},{"l":112,"x":-12,"y":-5.11},{"l":112,"x":-5,"y":-5},{"l":112,"x":0,"y":-4.92},{"l":112,"x":10.8,"y":-4.87},{"l":112,"x":22.3,"y":-5.2},{"l":112,"x":35.3,"y":-5.53},{"l":112,"x":48.2,"y":-5.2},{"l":112,"x":59.8,"y":-4.87},{"l":112,"x":71.4,"y":-5.2},{"l":112,"x":84.3,"y":-5.53},{"l":112,"x":97.2,"y":-5.2},{"l":112,"x":108.8,"y":-4.87},
{"l":113,"x":-100,"y":-5.39},{"l":113,"x":-50,"y":-5.39},{"l":113,"x":-25,"y":-5.38},{"l":113,"x":-12,"y":-5.32},{"l":113,"x":-5,"y":-5.22},{"l":113,"x":0,"y":-5.15},{"l":113,"x":11.2,"y":-5.11},{"l":113,"x":23.4,"y":-5.4},{"l":113,"x":36.7,"y":-5.7},{"l":113,"x":50,"y":-5.4},{"l":113,"x":62.1,"y":-5.11},{"l":113,"x":74.2,"y":-5.4},{"l":113,"x":87.6,"y":-5.7},{"l":113,"x":100.9,"y":-5.4},
{"l":114,"x":-100,"y":-5.59},{"l":114,"x":-50,"y":-5.59},{"l":114,"x":-25,"y":-5.58},{"l":114,"x":-12,"y":-5.53},{"l":114,"x":-5,"y":-5.43},{"l":114,"x":0,"y":-5.37},{"l":114,"x":11.7,"y":-5.33},{"l":114,"x":24.3,"y":-5.6},{"l":114,"x":38.1,"y":-5.87},{"l":114,"x":51.8,"y":-5.6},{"l":114,"x":64.5,"y":-5.33},{"l":114,"x":77.1,"y":-5.6},{"l":114,"x":90.9,"y":-5.87},{"l":114,"x":104.6,"y":-5.6},
{"l":115,"x":-100,"y":-5.79},{"l":115,"x":-50,"y":-5.79},{"l":115,"x":-25,"y":-5.78},{"l":115,"x":-12,"y":-5.73},{"l":115,"x":-5,"y":-5.65},{"l":115,"x":0,"y":-5.59},{"l":115,"x":12.2,"y":-5.56},{"l":115,"x":25.4,"y":-5.8},{"l":115,"x":39.5,"y":-6.04},{"l":115,"x":53.7,"y":-5.8},{"l":115,"x":66.8,"y":-5.56},{"l":115,"x":80,"y":-5.8},{"l":115,"x":94.2,"y":-6.04},{"l":115,"x":108.3,"y":-5.8},
{"l":116,"x":-100,"y":-6},{"l":116,"x":-50,"y":-6},{"l":116,"x":-25,"y":-5.99},{"l":116,"x":-12,"y":-5.95},{"l":116,"x":-5,"y":-5.87},{"l":116,"x":0,"y":-5.81},{"l":116,"x":12.6,"y":-5.78},{"l":116,"x":26.3,"y":-6},{"l":116,"x":40.9,"y":-6.22},{"l":116,"x":55.5,"y":-6},{"l":116,"x":69.2,"y":-5.78},{"l":116,"x":82.9,"y":-6},{"l":116,"x":97.5,"y":-6.22},{"l":116,"x":112,"y":-6},
{"l":117,"x":-100,"y":-6.2},{"l":117,"x":-50,"y":-6.2},{"l":117,"x":-25,"y":-6.19},{"l":117,"x":-12,"y":-6.15},{"l":117,"x":-5,"y":-6.08},{"l":117,"x":0,"y":-6.03},{"l":117,"x":13.1,"y":-6},{"l":117,"x":27.3,"y":-6.2},{"l":117,"x":42.3,"y":-6.4},{"l":117,"x":57.3,"y":-6.2},{"l":117,"x":71.5,"y":-6},{"l":117,"x":85.8,"y":-6.2},{"l":117,"x":100.8,"y":-6.4},
{"l":118,"x":-100,"y":-6.4},{"l":118,"x":-50,"y":-6.4},{"l":118,"x":-25,"y":-6.39},{"l":118,"x":-12,"y":-6.36},{"l":118,"x":-5,"y":-6.29},{"l":118,"x":0,"y":-6.25},{"l":118,"x":13.6,"y":-6.22},{"l":118,"x":28.3,"y":-6.4},{"l":118,"x":43.7,"y":-6.58},{"l":118,"x":59.2,"y":-6.4},{"l":118,"x":73.9,"y":-6.22},{"l":118,"x":88.6,"y":-6.4},{"l":118,"x":104.1,"y":-6.58},
{"l":119,"x":-100,"y":-6.6},{"l":119,"x":-50,"y":-6.6},{"l":119,"x":-25,"y":-6.59},{"l":119,"x":-12,"y":-6.56},{"l":119,"x":-5,"y":-6.5},{"l":119,"x":0,"y":-6.46},{"l":119,"x":14.1,"y":-6.43},{"l":119,"x":29.3,"y":-6.6},{"l":119,"x":45.2,"y":-6.77},{"l":119,"x":61,"y":-6.6},{"l":119,"x":76.3,"y":-6.43},{"l":119,"x":91.5,"y":-6.6},{"l":119,"x":107.4,"y":-6.77},
{"l":120,"x":-100,"y":-6.8},{"l":120,"x":-50,"y":-6.8},{"l":120,"x":-25,"y":-6.79},{"l":120,"x":-12,"y":-6.76},{"l":120,"x":-5,"y":-6.71},{"l":120,"x":0,"y":-6.67},{"l":120,"x":14.5,"y":-6.65},{"l":120,"x":30.2,"y":-6.8},{"l":120,"x":46.6,"y":-6.95},{"l":120,"x":62.9,"y":-6.8},{"l":120,"x":78.6,"y":-6.65},{"l":120,"x":94.3,"y":-6.8},{"l":120,"x":110.7,"y":-6.95},
{"l":121,"x":-100,"y":-7},{"l":121,"x":-50,"y":-7},{"l":121,"x":-25,"y":-6.99},{"l":121,"x":-12,"y":-6.97},{"l":121,"x":-5,"y":-6.92},{"l":121,"x":0,"y":-6.88},{"l":121,"x":15,"y":-6.86},{"l":121,"x":31.2,"y":-7},{"l":121,"x":48,"y":-7.14},{"l":121,"x":64.8,"y":-7},{"l":121,"x":81,"y":-6.86},{"l":121,"x":97.2,"y":-7},{"l":121,"x":114,"y":-7.14},
{"l":122,"x":-100,"y":-7.2},{"l":122,"x":-50,"y":-7.2},{"l":122,"x":-25,"y":-7.19},{"l":122,"x":-12,"y":-7.17},{"l":122,"x":-5,"y":-7.12},{"l":122,"x":0,"y":-7.09},{"l":122,"x":15.5,"y":-7.07},{"l":122,"x":32.2,"y":-7.2},{"l":122,"x":49.4,"y":-7.33},{"l":122,"x":66.6,"y":-7.2},{"l":122,"x":83.3,"y":-7.07},{"l":122,"x":100,"y":-7.2},
{"l":123,"x":-100,"y":-7.4},{"l":123,"x":-50,"y":-7.4},{"l":123,"x":-25,"y":-7.4},{"l":123,"x":-12,"y":-7.37},{"l":123,"x":-5,"y":-7.33},{"l":123,"x":0,"y":-7.3},{"l":123,"x":15.9,"y":-7.28},{"l":123,"x":33.1,"y":-7.4},{"l":123,"x":50.8,"y":-7.52},{"l":123,"x":68.5,"y":-7.4},{"l":123,"x":85.7,"y":-7.28},{"l":123,"x":102.9,"y":-7.4},
{"l":124,"x":-100,"y":-7.6},{"l":124,"x":-50,"y":-7.6},{"l":124,"x":-25,"y":-7.6},{"l":124,"x":-12,"y":-7.57},{"l":124,"x":-5,"y":-7.54},{"l":124,"x":0,"y":-7.51},{"l":124,"x":16.4,"y":-7.49},{"l":124,"x":34.1,"y":-7.6},{"l":124,"x":52.2,"y":-7.71},{"l":124,"x":70.4,"y":-7.6},{"l":124,"x":88,"y":-7.49},{"l":124,"x":105.7,"y":-7.6},
{"l":125,"x":-100,"y":-7.8},{"l":125,"x":-50,"y":-7.8},{"l":125,"x":-25,"y":-7.8},{"l":125,"x":-12,"y":-7.78},{"l":125,"x":-5,"y":-7.75},{"l":125,"x":0,"y":-7.72},{"l":125,"x":16.9,"y":-7.7},{"l":125,"x":35.1,"y":-7.8},{"l":125,"x":53.6,"y":-7.9},{"l":125,"x":72.2,"y":-7.8},{"l":125,"x":90.4,"y":-7.7},{"l":125,"x":108.6,"y":-7.8},
{"l":126,"x":-100,"y":-8},{"l":126,"x":-50,"y":-8},{"l":126,"x":-25,"y":-8},{"l":126,"x":-12,"y":-7.98},{"l":126,"x":-5,"y":-7.95},{"l":126,"x":0,"y":-7.92},{"l":126,"x":17.4,"y":-7.9},{"l":126,"x":36,"y":-8},{"l":126,"x":55.1,"y":-8.1},{"l":126,"x":74.1,"y":-8},{"l":126,"x":92.8,"y":-7.9},{"l":126,"x":111.4,"y":-8},
{"l":127,"x":-100,"y":-0.15},{"l":127,"x":-85,"y":-0.14},{"l":127,"x":-75,"y":-0.12},{"l":127,"x":-68,"y":-0.09},{"l":127,"x":-64,"y":-0.05},{"l":127,"x":-61.6,"y":0.02},{"l":127,"x":-64,"y":0.09},{"l":127,"x":-68,"y":0.13},{"l":127,"x":-75,"y":0.17},{"l":127,"x":-85,"y":0.19},{"l":127,"x":-100,"y":0.2},
{"l":128,"x":-100,"y":-0.35},{"l":128,"x":-75,"y":-0.34},{"l":128,"x":-55,"y":-0.31},{"l":128,"x":-42,"y":-0.25},{"l":128,"x":-34,"y":-0.17},{"l":128,"x":-29.5,"y":-0.08},{"l":128,"x":-27.5,"y":0.03},{"l":128,"x":-29.5,"y":0.14},{"l":128,"x":-34,"y":0.24},{"l":128,"x":-42,"y":0.33},{"l":128,"x":-55,"y":0.39},{"l":128,"x":-75,"y":0.41},{"l":128,"x":-100,"y":0.42},
{"l":129,"x":-100,"y":-0.55},{"l":129,"x":-70,"y":-0.54},{"l":129,"x":-45,"y":-0.5},{"l":129,"x":-30,"y":-0.43},{"l":129,"x":-22,"y":-0.34},{"l":129,"x":-17.5,"y":-0.2},{"l":129,"x":-15,"y":0},{"l":129,"x":-17.5,"y":0.24},{"l":129,"x":-22,"y":0.4},{"l":129,"x":-30,"y":0.52},{"l":129,"x":-45,"y":0.6},{"l":129,"x":-70,"y":0.63},{"l":129,"x":-100,"y":0.64},
{"l":130,"x":-100,"y":-0.75},{"l":130,"x":-60,"y":-0.74},{"l":130,"x":-35,"y":-0.69},{"l":130,"x":-22,"y":-0.6},{"l":130,"x":-15,"y":-0.47},{"l":130,"x":-11,"y":-0.28},{"l":130,"x":-9.4,"y":0},{"l":130,"x":-11,"y":0.3},{"l":130,"x":-15,"y":0.53},{"l":130,"x":-22,"y":0.69},{"l":130,"x":-35,"y":0.79},{"l":130,"x":-60,"y":0.83},{"l":130,"x":-100,"y":0.84},
{"l":131,"x":-100,"y":-0.95},{"l":131,"x":-60,"y":-0.94},{"l":131,"x":-35,"y":-0.9},{"l":131,"x":-20,"y":-0.8},{"l":131,"x":-12,"y":-0.63},{"l":131,"x":-8,"y":-0.38},{"l":131,"x":-6,"y":0},{"l":131,"x":-8,"y":0.4},{"l":131,"x":-12,"y":0.66},{"l":131,"x":-20,"y":0.83},{"l":131,"x":-35,"y":0.92},{"l":131,"x":-60,"y":0.96},{"l":131,"x":-100,"y":0.97},
{"l":132,"x":-100,"y":-1.15},{"l":132,"x":-60,"y":-1.14},{"l":132,"x":-30,"y":-1.1},{"l":132,"x":-15,"y":-1.01},{"l":132,"x":-8,"y":-0.85},{"l":132,"x":-4.5,"y":-0.6},{"l":132,"x":-3.2,"y":-0.3},{"l":132,"x":-2.9,"y":0},{"l":132,"x":-3.2,"y":0.3},{"l":132,"x":-4.5,"y":0.6},{"l":132,"x":-8,"y":0.85},{"l":132,"x":-14,"y":0.97},{"l":132,"x":-25,"y":1.02},{"l":132,"x":-40,"y":0.99},{"l":132,"x":-60,"y":1.03},{"l":132,"x":-80,"y":1},{"l":132,"x":-100,"y":1.03},
{"l":133,"x":-100,"y":-1.35},{"l":133,"x":-60,"y":-1.34},{"l":133,"x":-30,"y":-1.29},{"l":133,"x":-15,"y":-1.18},{"l":133,"x":-7,"y":-0.98},{"l":133,"x":-3.5,"y":-0.62},{"l":133,"x":-2.3,"y":-0.25},{"l":133,"x":-2,"y":0.15},{"l":133,"x":-2.3,"y":0.6},{"l":133,"x":-3,"y":1.1},{"l":133,"x":-4.3,"y":1.45},{"l":133,"x":-8,"y":1.15},{"l":133,"x":-10.4,"y":0.85},{"l":133,"x":-12.9,"y":1.15},{"l":133,"x":-16.5,"y":1.45},{"l":133,"x":-20.2,"y":1.15},{"l":133,"x":-22.6,"y":0.85},{"l":133,"x":-25.1,"y":1.15},{"l":133,"x":-28.7,"y":1.45},{"l":133,"x":-32.4,"y":1.15},{"l":133,"x":-34.8,"y":0.85},{"l":133,"x":-37.3,"y":1.15},{"l":133,"x":-40.9,"y":1.45},{"l":133,"x":-44.6,"y":1.15},{"l":133,"x":-47,"y":0.85},{"l":133,"x":-49.5,"y":1.15},{"l":133,"x":-53.1,"y":1.45},{"l":133,"x":-56.8,"y":1.15},{"l":133,"x":-59.2,"y":0.85},{"l":133,"x":-61.7,"y":1.15},{"l":133,"x":-65.3,"y":1.45},{"l":133,"x":-69,"y":1.15},{"l":133,"x":-71.4,"y":0.85},{"l":133,"x":-73.9,"y":1.15},{"l":133,"x":-77.5,"y":1.45},{"l":133,"x":-81.2,"y":1.15},{"l":133,"x":-83.6,"y":0.85},{"l":133,"x":-86.1,"y":1.15},{"l":133,"x":-89.7,"y":1.45},{"l":133,"x":-93.4,"y":1.15},{"l":133,"x":-95.8,"y":0.85},{"l":133,"x":-98.3,"y":1.15},{"l":133,"x":-101.9,"y":1.45},
{"l":134,"x":-100,"y":-1.55},{"l":134,"x":-60,"y":-1.54},{"l":134,"x":-30,"y":-1.49},{"l":134,"x":-15,"y":-1.37},{"l":134,"x":-7,"y":-1.15},{"l":134,"x":-3,"y":-0.75},{"l":134,"x":-1.5,"y":-0.3},{"l":134,"x":-1.2,"y":0.2},{"l":134,"x":-1.5,"y":0.8},{"l":134,"x":-2.4,"y":1.5},{"l":134,"x":-4.7,"y":2.19},{"l":134,"x":-9.1,"y":2.66},{"l":134,"x":-13.5,"y":2.19},{"l":134,"x":-16.3,"y":1.25},{"l":134,"x":-17.5,"y":0.78},{"l":134,"x":-18.7,"y":1.25},{"l":134,"x":-21.5,"y":2.19},{"l":134,"x":-25.9,"y":2.66},{"l":134,"x":-30.3,"y":2.19},{"l":134,"x":-33.1,"y":1.25},{"l":134,"x":-34.3,"y":0.78},{"l":134,"x":-35.5,"y":1.25},{"l":134,"x":-38.3,"y":2.19},{"l":134,"x":-42.7,"y":2.66},{"l":134,"x":-47.1,"y":2.19},{"l":134,"x":-49.9,"y":1.25},{"l":134,"x":-51.1,"y":0.78},{"l":134,"x":-52.3,"y":1.25},{"l":134,"x":-55.1,"y":2.19},{"l":134,"x":-59.5,"y":2.66},{"l":134,"x":-63.9,"y":2.19},{"l":134,"x":-66.7,"y":1.25},{"l":134,"x":-67.9,"y":0.78},{"l":134,"x":-69.1,"y":1.25},{"l":134,"x":-71.9,"y":2.19},{"l":134,"x":-76.3,"y":2.66},{"l":134,"x":-80.7,"y":2.19},{"l":134,"x":-83.5,"y":1.25},{"l":134,"x":-84.7,"y":0.78},{"l":134,"x":-85.9,"y":1.25},{"l":134,"x":-88.7,"y":2.19},{"l":134,"x":-93.1,"y":2.66},{"l":134,"x":-97.5,"y":2.19},{"l":134,"x":-100.3,"y":1.25},
{"l":135,"x":-100,"y":-1.75},{"l":135,"x":-60,"y":-1.74},{"l":135,"x":-30,"y":-1.69},{"l":135,"x":-15,"y":-1.56},{"l":135,"x":-7,"y":-1.32},{"l":135,"x":-3,"y":-0.88},{"l":135,"x":-1.2,"y":-0.35},{"l":135,"x":-0.6,"y":0.3},{"l":135,"x":-1.2,"y":0.95},{"l":135,"x":-2.8,"y":1.4},{"l":135,"x":-5.6,"y":1.68},{"l":135,"x":-8,"y":2.34},{"l":135,"x":-12.7,"y":3.66},{"l":135,"x":-19.7,"y":4.32},{"l":135,"x":-26.7,"y":3.66},{"l":135,"x":-31.4,"y":2.34},{"l":135,"x":-33.8,"y":1.68},{"l":135,"x":-36.3,"y":2.34},{"l":135,"x":-41,"y":3.66},{"l":135,"x":-48,"y":4.32},{"l":135,"x":-55,"y":3.66},{"l":135,"x":-59.7,"y":2.34},{"l":135,"x":-62.1,"y":1.68},{"l":135,"x":-64.5,"y":2.34},{"l":135,"x":-69.2,"y":3.66},{"l":135,"x":-76.3,"y":4.32},{"l":135,"x":-83.3,"y":3.66},{"l":135,"x":-88,"y":2.34},{"l":135,"x":-90.4,"y":1.68},{"l":135,"x":-92.8,"y":2.34},{"l":135,"x":-97.5,"y":3.66},{"l":135,"x":-104.5,"y":4.32},
{"l":136,"x":-100,"y":-2},{"l":136,"x":-60,"y":-1.99},{"l":136,"x":-30,"y":-1.94},{"l":136,"x":-15,"y":-1.8},{"l":136,"x":-7,"y":-1.52},{"l":136,"x":-2.8,"y":-0.98},{"l":136,"x":-0.6,"y":-0.35},{"l":136,"x":-0.1,"y":0.35},{"l":136,"x":-0.8,"y":1.05},{"l":136,"x":-2.6,"y":1.5},{"l":136,"x":-5.7,"y":1.75},{"l":136,"x":-8.2,"y":2.4},{"l":136,"x":-13,"y":3.7},{"l":136,"x":-20.1,"y":4.35},{"l":136,"x":-27.1,"y":3.7},{"l":136,"x":-31.9,"y":2.4},{"l":136,"x":-34.4,"y":1.75},{"l":136,"x":-37,"y":2.4},{"l":136,"x":-41.8,"y":3.7},{"l":136,"x":-48.8,"y":4.35},{"l":136,"x":-55.9,"y":3.7},{"l":136,"x":-60.7,"y":2.4},{"l":136,"x":-63.2,"y":1.75},{"l":136,"x":-65.7,"y":2.4},{"l":136,"x":-70.5,"y":3.7},{"l":136,"x":-77.6,"y":4.35},{"l":136,"x":-84.6,"y":3.7},{"l":136,"x":-89.4,"y":2.4},{"l":136,"x":-91.9,"y":1.75},{"l":136,"x":-94.5,"y":2.4},{"l":136,"x":-99.3,"y":3.7},{"l":136,"x":-106.3,"y":4.35},
{"l":137,"x":-100,"y":-2.3},{"l":137,"x":-60,"y":-2.29},{"l":137,"x":-30,"y":-2.23},{"l":137,"x":-15,"y":-2.07},{"l":137,"x":-7,"y":-1.78},{"l":137,"x":-2.5,"y":-1.15},{"l":137,"x":0,"y":-0.4},{"l":137,"x":0.4,"y":0.4},{"l":137,"x":-0.4,"y":1.1},{"l":137,"x":-2.5,"y":1.58},{"l":137,"x":-5.8,"y":1.8},{"l":137,"x":-8.4,"y":2.45},{"l":137,"x":-13.3,"y":3.75},{"l":137,"x":-20.4,"y":4.4},{"l":137,"x":-27.5,"y":3.75},{"l":137,"x":-32.4,"y":2.45},{"l":137,"x":-35,"y":1.8},{"l":137,"x":-37.6,"y":2.45},{"l":137,"x":-42.5,"y":3.75},{"l":137,"x":-49.6,"y":4.4},{"l":137,"x":-56.8,"y":3.75},{"l":137,"x":-61.6,"y":2.45},{"l":137,"x":-64.2,"y":1.8},{"l":137,"x":-66.9,"y":2.45},{"l":137,"x":-71.7,"y":3.75},{"l":137,"x":-78.9,"y":4.4},{"l":137,"x":-86,"y":3.75},{"l":137,"x":-90.8,"y":2.45},{"l":137,"x":-93.5,"y":1.8},{"l":137,"x":-96.1,"y":2.45},{"l":137,"x":-101,"y":3.75},
{"l":138,"x":-100,"y":-2.6},{"l":138,"x":-60,"y":-2.59},{"l":138,"x":-30,"y":-2.52},{"l":138,"x":-15,"y":-2.34},{"l":138,"x":-7,"y":-2},{"l":138,"x":-2.3,"y":-1.3},{"l":138,"x":0.3,"y":-0.45},{"l":138,"x":0.8,"y":0.4},{"l":138,"x":-0.1,"y":1.1},{"l":138,"x":-2.3,"y":1.5},{"l":138,"x":-5.5,"y":1.65},{"l":138,"x":-7.8,"y":2.3},{"l":138,"x":-12.5,"y":3.6},{"l":138,"x":-19.4,"y":4.25},{"l":138,"x":-26.2,"y":3.6},{"l":138,"x":-30.9,"y":2.3},{"l":138,"x":-33.3,"y":1.65},{"l":138,"x":-35.6,"y":2.3},{"l":138,"x":-40.3,"y":3.6},{"l":138,"x":-47.2,"y":4.25},{"l":138,"x":-54,"y":3.6},{"l":138,"x":-58.7,"y":2.3},{"l":138,"x":-61.1,"y":1.65},{"l":138,"x":-63.4,"y":2.3},{"l":138,"x":-68.1,"y":3.6},{"l":138,"x":-74.9,"y":4.25},{"l":138,"x":-81.8,"y":3.6},{"l":138,"x":-86.5,"y":2.3},{"l":138,"x":-88.9,"y":1.65},{"l":138,"x":-91.2,"y":2.3},{"l":138,"x":-95.9,"y":3.6},{"l":138,"x":-102.8,"y":4.25}
]},
"layer":[
{"data":{"name":"lines"},
"mark":{"type":"line","interpolate":"catmull-rom","clip":true,"color":"black","strokeWidth":1.3},
"encoding":{
"x":{"field":"x","type":"quantitative","scale":{"domain":[-100,100],"nice":false,"zero":false},"axis":{"orient":"bottom","values":[-100,-50,0,50,100],"ticks":false,"labelPadding":10,"labelFlush":false,"labelExpr":"toString(datum.value)","labelOffset":{"condition":{"test":"datum.value == 100","value":-5},"value":0},"title":"Azimuth (rH)","titlePadding":12}},
"y":{"field":"y","type":"quantitative","scale":{"domain":[-8.5,8.5],"nice":false,"zero":false},"axis":{"orient":"left","values":[-5,0,5],"ticks":false,"labelPadding":7,"labelExpr":"toString(datum.value)","title":"Radius (rH)","titlePadding":10}},
"detail":{"field":"l","type":"nominal"},
"order":{"value":null}}},
{"data":{"name":"label"},
"mark":{"type":"text","align":"left","baseline":"alphabetic","fontSize":37,"font":"Liberation Sans","color":"black"},
"encoding":{
"x":{"field":"x","type":"quantitative","scale":{"domain":[-100,100],"nice":false,"zero":false},"axis":{"orient":"bottom","values":[-90,-80,-70,-60,-50,-40,-30,-20,-10,0,10,20,30,40,50,60,70,80,90],"tickSize":-7,"labels":false,"title":null}},
"y":{"field":"y","type":"quantitative","scale":{"domain":[-8.5,8.5],"nice":false,"zero":false},"axis":{"orient":"left","values":[-8,-7,-6,-5,-4,-3,-2,-1,0,1,2,3,4,5,6,7,8],"tickSize":-9,"labels":false,"title":null}},
"text":{"field":"t"}}},
{"data":{"name":"label"},
"mark":{"type":"point","opacity":0},
"encoding":{
"x":{"field":"x","type":"quantitative","scale":{"domain":[-100,100],"nice":false,"zero":false},"axis":{"orient":"bottom","values":[-50,0,50],"tickSize":-14,"labels":false,"title":null}},
"y":{"field":"y","type":"quantitative","scale":{"domain":[-8.5,8.5],"nice":false,"zero":false},"axis":{"orient":"left","values":[-5,0,5],"tickSize":-17,"labels":false,"title":null}}}},
{"data":{"name":"label"},
"mark":{"type":"point","opacity":0},
"encoding":{
"x":{"field":"x","type":"quantitative","scale":{"domain":[-100,100],"nice":false,"zero":false},"axis":{"orient":"top","values":[-90,-80,-70,-60,-50,-40,-30,-20,-10,0,10,20,30,40,50,60,70,80,90],"tickSize":-7,"labels":false,"title":null}},
"y":{"field":"y","type":"quantitative","scale":{"domain":[-8.5,8.5],"nice":false,"zero":false},"axis":{"orient":"right","values":[-8,-7,-6,-5,-4,-3,-2,-1,0,1,2,3,4,5,6,7,8],"tickSize":-9,"labels":false,"title":null}}}},
{"data":{"name":"label"},
"mark":{"type":"point","opacity":0},
"encoding":{
"x":{"field":"x","type":"quantitative","scale":{"domain":[-100,100],"nice":false,"zero":false},"axis":{"orient":"top","values":[-50,0,50],"tickSize":-14,"labels":false,"title":null}},
"y":{"field":"y","type":"quantitative","scale":{"domain":[-8.5,8.5],"nice":false,"zero":false},"axis":{"orient":"right","values":[-5,0,5],"tickSize":-17,"labels":false,"title":null}}}}
]
}
